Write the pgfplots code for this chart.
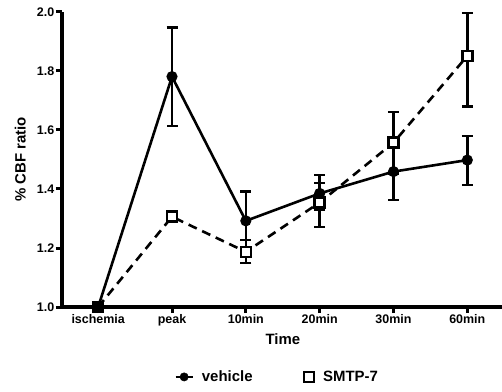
\documentclass[border=0pt]{standalone}
\usepackage{fontspec}
\setmainfont{Liberation Sans}
\usepackage{pgfplots}
\pgfplotsset{compat=1.18}
\begin{document}
\begin{tikzpicture}
\useasboundingbox (-62bp,-85bp) rectangle (440bp,307bp);
\begin{axis}[
  at={(0,0)}, anchor=south west,
  scale only axis, width=440bp, height=295bp,
  xmin=-0.49, xmax=5.47, ymin=1.0, ymax=2.0,
  axis x line*=bottom, axis y line*=left,
  axis line style={draw=none},
  xtick={0,1,2,3,4,5},
  xticklabels={ischemia,peak,10min,20min,30min,60min},
  ytick={1.0,1.2,1.4,1.6,1.8,2.0},
  yticklabel style={/pgf/number format/fixed, /pgf/number format/precision=1, /pgf/number format/fixed zerofill, inner sep=0.5bp},
  /pgf/number format/assume math mode=true,
  tick align=outside, major tick length=6bp,
  tick style={line width=3bp, black},
  ticklabel style={font=\bfseries\fontsize{12.5}{14}\selectfont},
  xticklabel style={inner sep=1.5bp},
  yticklabel style={xshift=-1bp},
  xlabel={Time}, ylabel={\% CBF ratio},
  label style={font=\bfseries\fontsize{15}{17}\selectfont},
  xlabel style={at={(axis description cs:0.502,-0.108)}, anchor=center},
  ylabel style={at={(axis description cs:-0.095,0.5)}, anchor=center},
  clip=false,
  legend columns=2,
  legend style={at={(axis description cs:0.489,-0.237)}, anchor=center, draw=none, fill=none,
    font=\bfseries\fontsize{15}{17}\selectfont,
    /tikz/every even column/.append style={column sep=48bp}},
  error bars/y dir=both, error bars/y explicit,
  error bars/error bar style={line width=2.4bp, solid},
  error bars/error mark options={rotate=90, mark size=5.5bp, line width=2.4bp, solid},
]
\addlegendimage{legend image code/.code={\draw[line width=2.6bp, black] (0bp,0bp) -- (17bp,0bp); \fill[black] (8.5bp,0bp) circle (4.2bp);}}
\addlegendentry{\hspace{6bp}vehicle}
\addlegendimage{legend image code/.code={\draw[line width=2.6bp, black, fill=white] (4bp,-5bp) rectangle (14bp,5bp);}}
\addlegendentry{\hspace{6bp}SMTP-7}
\draw[line width=4.8bp, black] (axis cs:-0.49,1.0) -- (axis cs:5.47,1.0);
\draw[line width=4.8bp, black] (axis cs:-0.49,1.0) -- (axis cs:-0.49,2.0);
\addplot[forget plot, black, line width=2.6bp, dashed, dash pattern=on 9bp off 6bp,
  mark=square*, mark size=5bp, mark options={solid, fill=white, line width=2.6bp}]
coordinates {
(0,1.0) += (0,0.0) -= (0,0.0)
(1,1.306) += (0,0.012) -= (0,0.012)
(2,1.187) += (0,0.040) -= (0,0.038)
(3,1.354) += (0,0.066) -= (0,0.082)
(4,1.557) += (0,0.104) -= (0,0.104)
(5,1.851) += (0,0.146) -= (0,0.171)
};
\addplot[forget plot, black, line width=2.6bp, mark=*, mark size=4.2bp, mark options={solid}]
coordinates {
(0,1.0) += (0,0.0) -= (0,0.0)
(1,1.781) += (0,0.166) -= (0,0.167)
(2,1.292) += (0,0.099) -= (0,0.100)
(3,1.385) += (0,0.062) -= (0,0.055)
(4,1.459) += (0,0.096) -= (0,0.096)
(5,1.498) += (0,0.082) -= (0,0.085)
};
\end{axis}
\end{tikzpicture}
\end{document}
